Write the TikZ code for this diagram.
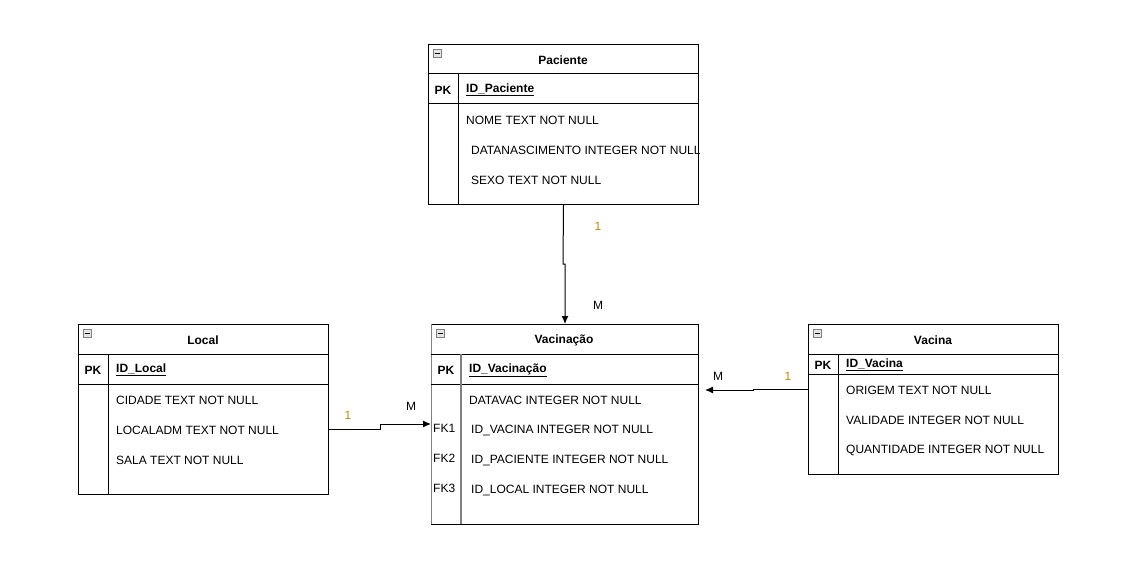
\documentclass[tikz,border=0pt]{standalone}
\usepackage{fontspec}
\setmainfont{Liberation Sans}
\usetikzlibrary{arrows.meta}
\definecolor{lblorange}{RGB}{204,136,0}
\definecolor{divgray}{RGB}{128,128,128}
\tikzset{
  tbl/.style={draw=black, line width=1pt, fill=white, anchor=north west, inner sep=0pt},
  txt/.style={font=\fontsize{12}{14}\selectfont, inner sep=0pt, yshift=-1pt},
  ttl/.style={txt, font=\fontsize{12}{14}\selectfont\bfseries},
  pk/.style={txt, font=\fontsize{12}{14}\selectfont\bfseries},
  fld/.style={txt, anchor=west},
  keyf/.style={txt, font=\fontsize{12}{14}\selectfont\bfseries, anchor=west},
  fk/.style={txt, anchor=west},
  rel/.style={txt},
  one/.style={rel, text=lblorange},
  conn/.style={draw=black, line width=1pt, -{Latex[length=8pt,width=7pt]}},
  sep/.style={draw=black, line width=1pt},
  icon/.style={draw=divgray, fill=black!10, line width=0.7pt, minimum width=8pt, minimum height=8pt, inner sep=0pt}
}
\newcommand{\uln}[1]{\underline{#1}}
\begin{document}
\begin{tikzpicture}[x=1pt,y=-1pt]
\useasboundingbox (0,0) rectangle (1145,575);
\fill[white] (0,0) rectangle (1145,575);

% ---------- Paciente ----------
\node[tbl, minimum width=270pt, minimum height=160pt] (pac) at (428,44) {};
\draw[sep] (428,74) -- (698,74);
\draw[sep] (428,104) -- (698,104);
\draw[sep] (458,74) -- (458,204);
\node[icon] (pacicon) at (437,53) {};
\draw[line width=0.9pt] (434.5,53) -- (439.5,53);
\node[ttl] (pact) at (563,59) {Paciente};
\node[pk] (pacpk) at (443,89) {PK};
\node[keyf] (pacid) at (466,89) {\uln{ID\_Paciente}};
\node[fld] (pacf1) at (466,119) {NOME TEXT NOT NULL};
\node[fld] (pacf2) at (471,149) {DATANASCIMENTO INTEGER NOT NULL};
\node[fld] (pacf3) at (471,179) {SEXO TEXT NOT NULL};

% ---------- Local ----------
\node[tbl, minimum width=250pt, minimum height=170pt] (loc) at (78,324) {};
\draw[sep] (78,354) -- (328,354);
\draw[sep] (78,384) -- (328,384);
\draw[sep] (108,354) -- (108,494);
\node[icon] (locicon) at (87,333) {};
\draw[line width=0.9pt] (84.5,333) -- (89.5,333);
\node[ttl] (loct) at (203,339) {Local};
\node[pk] (locpk) at (93,369) {PK};
\node[keyf] (locid) at (116,369) {\uln{ID\_Local}};
\node[fld] (locf1) at (116,399) {CIDADE TEXT NOT NULL};
\node[fld] (locf2) at (116,429) {LOCALADM TEXT NOT NULL};
\node[fld] (locf3) at (116,459) {SALA TEXT NOT NULL};

% ---------- Vacinacao ----------
\node[tbl, minimum width=267pt, minimum height=200pt] (vac) at (431,324) {};
\draw[divgray, line width=1pt] (431,324) -- (431,524);
\draw[sep] (431,354) -- (698,354);
\draw[sep] (431,384) -- (698,384);
\draw[divgray, line width=1.2pt] (461,354) -- (461,524);
\node[icon] (vacicon) at (440,333) {};
\draw[line width=0.9pt] (437.5,333) -- (442.5,333);
\node[ttl] (vact) at (564,339) {Vacinação};
\node[pk] (vacpk) at (446,369) {PK};
\node[keyf] (vacid) at (469,369) {\uln{ID\_Vacinação}};
\node[fld] (vacf1) at (469,399) {DATAVAC INTEGER NOT NULL};
\node[fld] (vacf2) at (471,429) {ID\_VACINA INTEGER NOT NULL};
\node[fld] (vacf3) at (471,459) {ID\_PACIENTE INTEGER NOT NULL};
\node[fld] (vacf4) at (471,489) {ID\_LOCAL INTEGER NOT NULL};
\node[fk] (fk1) at (433,427) {FK1};
\node[fk] (fk2) at (433,457) {FK2};
\node[fk] (fk3) at (433,487) {FK3};

% ---------- Vacina ----------
\node[tbl, minimum width=250pt, minimum height=150pt] (vcn) at (808,324) {};
\draw[sep] (808,354) -- (1058,354);
\draw[sep] (808,374) -- (1058,374);
\draw[sep] (838,354) -- (838,474);
\node[icon] (vcnicon) at (817,333) {};
\draw[line width=0.9pt] (814.5,333) -- (819.5,333);
\node[ttl] (vcnt) at (933,339) {Vacina};
\node[pk] (vcnpk) at (823,364) {PK};
\node[keyf] (vcnid) at (846,364) {\uln{ID\_Vacina}};
\node[fld] (vcnf1) at (846,389) {ORIGEM TEXT NOT NULL};
\node[fld] (vcnf2) at (846,419) {VALIDADE INTEGER NOT NULL};
\node[fld] (vcnf3) at (846,449) {QUANTIDADE INTEGER NOT NULL};

% ---------- Connectors ----------
\coordinate (locout) at (328,429);
\coordinate (vcnout) at (808,389);
\coordinate (vacin) at (431,424);
\coordinate (vacright) at (705,390);
\draw[conn] (pac.south) -- (563,264) -- (565,264) -- (565,324);
\draw[conn] (locout) -- (380,429) -- (380,424) -- (vacin);
\draw[conn] (vcnout) -- (753,389) -- (753,390) -- (vacright);

% ---------- Cardinality labels ----------
\node[one] (l1a) at (598,225) {1};
\node[rel] (lma) at (598,304) {M};
\node[one] (l1b) at (348,414) {1};
\node[rel] (lmb) at (411,405) {M};
\node[rel] (lmc) at (718,375) {M};
\node[one] (l1c) at (788,375) {1};
\end{tikzpicture}
\end{document}
